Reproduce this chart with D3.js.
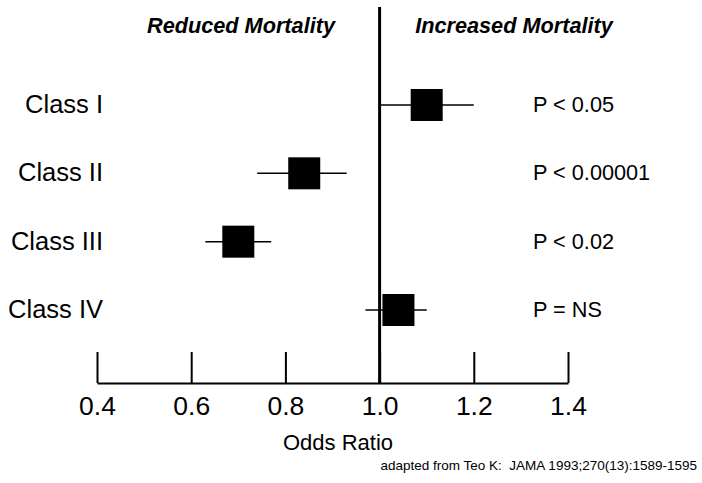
<!DOCTYPE html>
<html>
<head>
<meta charset="utf-8">
<script src="https://cdn.jsdelivr.net/npm/d3@7"></script>
<style>
  body { margin: 0; background: #fff; }
  svg text { font-family: "Liberation Sans", Arial, sans-serif; fill: #000; }
</style>
</head>
<body>
<div id="body"></div>
<script>
// data
var classes = ["Class I", "Class II", "Class III", "Class IV"];
var oddsRatio = [1.10, 0.84, 0.70, 1.04];
var ciLow = [1.00, 0.74, 0.63, 0.97];
var ciHigh = [1.20, 0.93, 0.77, 1.10];
var pValues = ["P < 0.05", "P < 0.00001", "P < 0.02", "P = NS"];
var xTicks = [0.4, 0.6, 0.8, 1.0, 1.2, 1.4];

const width = 702;
const height = 483;
const axisY = 383;
const boxSize = 32;

const svg = d3.select("#body")
              .append("svg")
              .attr("width", width)
              .attr("height", height);

const xScale = d3.scaleLinear()
                 .domain([0.4, 1.4])
                 .range([97, 568]);

const yScale = d3.scalePoint()
                 .domain(classes)
                 .range([105, 310]);

// x axis: ticks pointing up, labels below
const xAxis = d3.axisBottom(xScale)
                .tickValues(xTicks)
                .tickFormat(d3.format(".1f"))
                .tickSizeInner(-31)
                .tickSizeOuter(0)
                .tickPadding(13);

const xAxisGroup = svg.append("g")
                      .attr("transform", "translate(0," + axisY + ")")
                      .call(xAxis);
xAxisGroup.select(".domain").attr("stroke", "#000").attr("stroke-width", 2);
xAxisGroup.selectAll(".tick line").attr("stroke", "#000").attr("stroke-width", 2);
xAxisGroup.selectAll(".tick text")
          .attr("font-size", 26.5)
          .attr("font-family", "Liberation Sans, Arial, sans-serif")
          .attr("fill", "#000");

// line of no effect
svg.append("line")
   .attr("x1", xScale(1.0)).attr("x2", xScale(1.0))
   .attr("y1", 7).attr("y2", axisY)
   .attr("stroke", "#000")
   .attr("stroke-width", 3);

// whiskers
svg.selectAll("line.ci")
   .data(classes)
   .enter()
   .append("line")
   .attr("class", "ci")
   .attr("x1", (d, i) => xScale(ciLow[i]))
   .attr("x2", (d, i) => xScale(ciHigh[i]))
   .attr("y1", (d) => yScale(d))
   .attr("y2", (d) => yScale(d))
   .attr("stroke", "#000")
   .attr("stroke-width", 1.5);

// boxes
svg.selectAll("rect.or")
   .data(classes)
   .enter()
   .append("rect")
   .attr("class", "or")
   .attr("x", (d, i) => xScale(oddsRatio[i]) - boxSize / 2)
   .attr("y", (d) => yScale(d) - boxSize / 2)
   .attr("width", boxSize)
   .attr("height", boxSize)
   .attr("fill", "#000");

// class labels
svg.selectAll("text.cls")
   .data(classes)
   .enter()
   .append("text")
   .attr("class", "cls")
   .attr("x", 103)
   .attr("y", (d) => yScale(d) + 8)
   .attr("text-anchor", "end")
   .attr("font-size", 25.5)
   .text((d) => d);

// p values
svg.selectAll("text.pval")
   .data(classes)
   .enter()
   .append("text")
   .attr("class", "pval")
   .attr("x", 533)
   .attr("y", (d) => yScale(d) + 7)
   .attr("font-size", 21.7)
   .text((d, i) => pValues[i]);

// headers
svg.append("text")
   .attr("x", 241).attr("y", 33)
   .attr("text-anchor", "middle")
   .attr("font-size", 21.7)
   .attr("font-weight", "bold")
   .attr("font-style", "italic")
   .text("Reduced Mortality");

svg.append("text")
   .attr("x", 514).attr("y", 33)
   .attr("text-anchor", "middle")
   .attr("font-size", 21.7)
   .attr("font-weight", "bold")
   .attr("font-style", "italic")
   .text("Increased Mortality");

// axis title
svg.append("text")
   .attr("x", 338).attr("y", 450)
   .attr("text-anchor", "middle")
   .attr("font-size", 22)
   .text("Odds Ratio");

// source note
svg.append("text")
   .attr("x", 697).attr("y", 470)
   .attr("text-anchor", "end")
   .attr("font-size", 13.5)
   .style("white-space", "pre")
   .text("adapted from Teo K:  JAMA 1993;270(13):1589-1595");
</script>
</body>
</html>
